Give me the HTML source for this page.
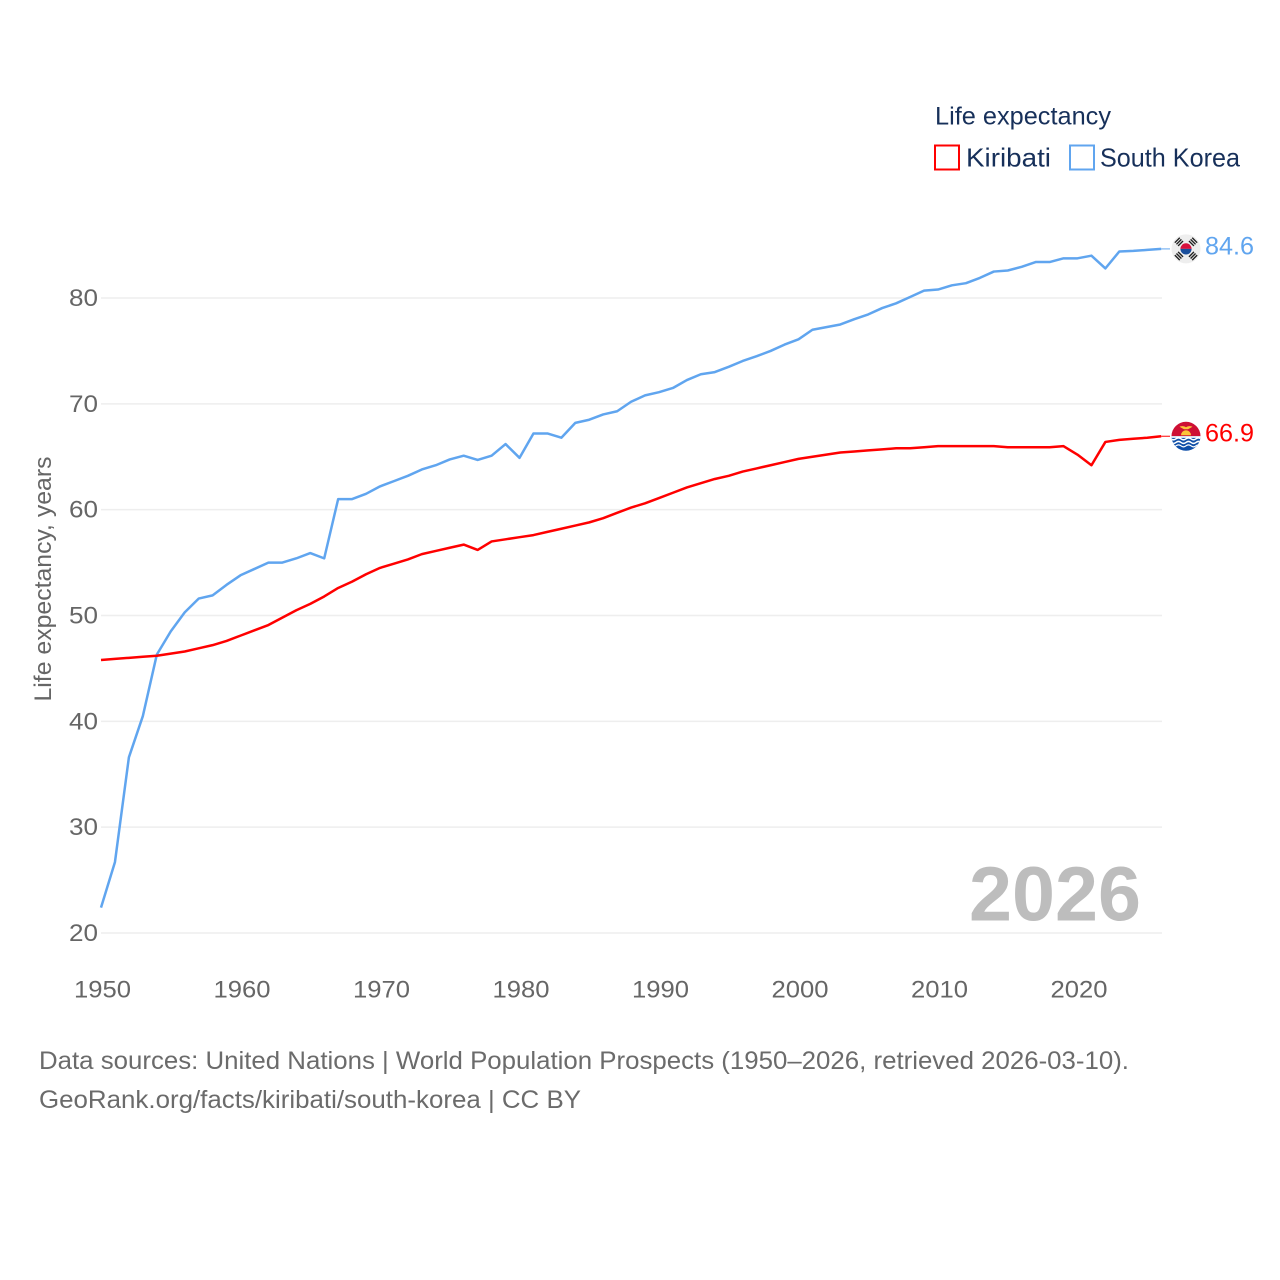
<!DOCTYPE html>
<html lang="en">
<head>
<meta charset="utf-8">
<title>Life expectancy: Kiribati and South Korea</title>
<style>
html,body{margin:0;padding:0;background:#fff;width:1280px;height:1280px;overflow:hidden}
svg{display:block}
text{font-family:"Liberation Sans",sans-serif}
</style>
</head>
<body>
<svg id="chart" width="1280" height="1280" viewBox="0 0 1280 1280" xmlns="http://www.w3.org/2000/svg">
  <defs>
    <clipPath id="flag-clip"><circle cx="0" cy="0" r="14.5"/></clipPath>
  </defs>
  <g id="grid"></g>
  <g id="ytick-labels"></g>
  <g id="xtick-labels"></g>
  <text transform="translate(51,579) rotate(-90)" text-anchor="middle" font-size="24" fill="#666666" textLength="245" lengthAdjust="spacingAndGlyphs">Life expectancy, years</text>
  <text x="969" y="920.5" font-size="77" font-weight="700" fill="#bdbdbd" textLength="172" lengthAdjust="spacingAndGlyphs">2026</text>
  <g id="series"></g>

  <g id="flag-south-korea">
    <g clip-path="url(#flag-clip)">
      <rect x="-15" y="-15" width="30" height="30" fill="#eeeeee"/>
      <path d="M-5.6,0A5.6,5.6 0 0 1 5.6,0Z" fill="#d8103c"/>
      <path d="M-5.6,0A5.6,5.6 0 0 0 5.6,0Z" fill="#1a4f9c"/>
      <g fill="#222222">
        <g transform="rotate(-45) translate(0,-10)"><rect x="-3.5" y="-3" width="7" height="1.4"/><rect x="-3.5" y="-0.7" width="7" height="1.4"/><rect x="-3.5" y="1.6" width="7" height="1.4"/></g>
        <g transform="rotate(45) translate(0,-10)"><rect x="-3.5" y="-3" width="7" height="1.4"/><rect x="-3.5" y="-0.7" width="7" height="1.4"/><rect x="-3.5" y="1.6" width="7" height="1.4"/></g>
        <g transform="rotate(135) translate(0,-10)"><rect x="-3.5" y="-3" width="7" height="1.4"/><rect x="-3.5" y="-0.7" width="7" height="1.4"/><rect x="-3.5" y="1.6" width="7" height="1.4"/></g>
        <g transform="rotate(-135) translate(0,-10)"><rect x="-3.5" y="-3" width="7" height="1.4"/><rect x="-3.5" y="-0.7" width="7" height="1.4"/><rect x="-3.5" y="1.6" width="7" height="1.4"/></g>
      </g>
    </g>
  </g>

  <g id="flag-kiribati">
    <g clip-path="url(#flag-clip)">
      <rect x="-15" y="-15" width="30" height="15" fill="#ce1034"/>
      <rect x="-15" y="0" width="30" height="15" fill="#0f4fa8"/>
      <path d="M-5,-1A5,5 0 0 1 5,-1Z" fill="#fcc43a"/>
      <path d="M-6.5,-9.5Q-3,-11 0,-9Q3,-11 6.5,-9.5L2,-7H-2Z" fill="#fcc43a"/>
      <rect x="-15" y="0" width="30" height="1.6" fill="#ffffff"/>
      <path d="M-15,2.6q2.5,2 5,0t5,0t5,0t5,0t5,0t5,0" fill="none" stroke="#fff" stroke-width="1.5"/>
      <path d="M-15,6.2q2.5,2 5,0t5,0t5,0t5,0t5,0t5,0" fill="none" stroke="#fff" stroke-width="1.5"/>
      <path d="M-15,9.6q2.5,2 5,0t5,0t5,0t5,0t5,0t5,0" fill="none" stroke="#fff" stroke-width="1.2"/>
    </g>
  </g>

  <g id="end-labels"></g>

  <g>
    <text x="935" y="124.5" font-size="25" fill="#17305a" textLength="176" lengthAdjust="spacingAndGlyphs">Life expectancy</text>
    <g>
      <rect x="935" y="145.5" width="24" height="24" fill="#fff" stroke="#ff0000" stroke-width="2"/>
      <text x="966" y="166.5" font-size="26" fill="#17305a" textLength="85" lengthAdjust="spacingAndGlyphs">Kiribati</text>
    </g>
    <g>
      <rect x="1070" y="145.5" width="24" height="24" fill="#fff" stroke="#60a5ef" stroke-width="2"/>
      <text x="1100" y="166.5" font-size="26" fill="#17305a" textLength="140" lengthAdjust="spacingAndGlyphs">South Korea</text>
    </g>
  </g>

  <text x="39" y="1069" font-size="25" fill="#6b6b6b" textLength="1090" lengthAdjust="spacingAndGlyphs">Data sources: United Nations | World Population Prospects (1950–2026, retrieved 2026-03-10).</text>
  <text x="39" y="1108" font-size="25" fill="#6b6b6b" textLength="542" lengthAdjust="spacingAndGlyphs">GeoRank.org/facts/kiribati/south-korea | CC BY</text>
</svg>
<script>
const startYear = 1950;
const xTicks = [1950, 1960, 1970, 1980, 1990, 2000, 2010, 2020];
const yTicks = [20, 30, 40, 50, 60, 70, 80];
const kiribati = [45.8,45.9,46.0,46.1,46.2,46.4,46.6,46.9,47.2,47.6,48.1,48.6,49.1,49.8,50.5,51.1,51.8,52.6,53.2,53.9,54.5,54.9,55.3,55.8,56.1,56.4,56.7,56.2,57.0,57.2,57.4,57.6,57.9,58.2,58.5,58.8,59.2,59.7,60.2,60.6,61.1,61.6,62.1,62.5,62.9,63.2,63.6,63.9,64.2,64.5,64.8,65.0,65.2,65.4,65.5,65.6,65.7,65.8,65.8,65.9,66.0,66.0,66.0,66.0,66.0,65.9,65.9,65.9,65.9,66.0,65.2,64.2,66.4,66.6,66.7,66.8,66.94];
const southKorea = [22.4,26.7,36.6,40.5,46.3,48.5,50.3,51.6,51.9,52.9,53.8,54.4,55.0,55.0,55.4,55.9,55.4,61.0,61.0,61.5,62.2,62.7,63.2,63.8,64.2,64.75,65.1,64.7,65.1,66.2,64.9,67.2,67.2,66.8,68.2,68.5,69.0,69.3,70.2,70.8,71.1,71.5,72.25,72.8,73.0,73.5,74.05,74.5,75.0,75.6,76.1,77.0,77.25,77.5,78.0,78.45,79.05,79.5,80.1,80.7,80.8,81.2,81.4,81.9,82.5,82.6,82.95,83.4,83.4,83.75,83.75,84.0,82.8,84.4,84.45,84.55,84.64];

const NS = 'http://www.w3.org/2000/svg';
const plotLeft = 101, plotRight = 1161.2, gridRight = 1162, yearSpan = 76;
const xOf = year => plotLeft + (year - startYear) * (plotRight - plotLeft) / yearSpan;
const yOf = value => 933 - (value - 20) * 10.583;

function make(tag, parent) {
  const el = document.createElementNS(NS, tag);
  parent.appendChild(el);
  return el;
}

const grid = document.getElementById('grid');
const yLabels = document.getElementById('ytick-labels');
yTicks.forEach(tick => {
  const line = make('line', grid);
  
  
  line.setAttribute('x1', plotLeft);
  line.setAttribute('x2', gridRight);
  line.setAttribute('y1', yOf(tick));
  line.setAttribute('y2', yOf(tick));
  line.setAttribute('stroke', '#eeeeee');
  line.setAttribute('stroke-width', '1.5');

  const label = make('text', yLabels);
  
  
  label.setAttribute('x', 98);
  label.setAttribute('y', yOf(tick) + 8);
  label.setAttribute('text-anchor', 'end');
  label.setAttribute('font-size', '24');
  label.setAttribute('fill', '#666666');
  label.setAttribute('textLength', '29');
  label.setAttribute('lengthAdjust', 'spacingAndGlyphs');
  label.textContent = tick;
});

const xLabels = document.getElementById('xtick-labels');
xTicks.forEach(tick => {
  const label = make('text', xLabels);
  
  
  label.setAttribute('x', xOf(tick) + 1.5);
  label.setAttribute('y', 997.5);
  label.setAttribute('text-anchor', 'middle');
  label.setAttribute('font-size', '24');
  label.setAttribute('fill', '#666666');
  label.setAttribute('textLength', '57');
  label.setAttribute('lengthAdjust', 'spacingAndGlyphs');
  label.textContent = tick;
});

const seriesGroup = document.getElementById('series');
const endLabels = document.getElementById('end-labels');

function drawSeries(values, color, slug, flagId) {
  const points = values.map((v, i) => xOf(startYear + i).toFixed(2) + ',' + yOf(v).toFixed(2)).join(' ');
  const line = make('polyline', seriesGroup);
  
  
  line.setAttribute('points', points);
  line.setAttribute('fill', 'none');
  line.setAttribute('stroke', color);
  line.setAttribute('stroke-width', '2.5');
  line.setAttribute('stroke-linejoin', 'round');

  const last = values[values.length - 1];
  const endY = yOf(last);

  const connector = make('line', seriesGroup);
  
  
  connector.setAttribute('x1', plotRight);
  connector.setAttribute('x2', 1170);
  connector.setAttribute('y1', endY);
  connector.setAttribute('y2', endY);
  connector.setAttribute('stroke', color);
  connector.setAttribute('stroke-width', '1');

  document.getElementById(flagId).setAttribute('transform', 'translate(1186,' + endY.toFixed(2) + ')');

  const label = make('text', endLabels);
  
  
  label.setAttribute('x', 1205);
  label.setAttribute('y', endY + 5.5);
  label.setAttribute('font-size', '25');
  label.setAttribute('fill', color);
  label.setAttribute('textLength', '49');
  label.setAttribute('lengthAdjust', 'spacingAndGlyphs');
  label.textContent = last.toFixed(1);
}

drawSeries(southKorea, '#60a5ef', 'south-korea', 'flag-south-korea');
drawSeries(kiribati, '#ff0000', 'kiribati', 'flag-kiribati');
</script>
</body>
</html>
